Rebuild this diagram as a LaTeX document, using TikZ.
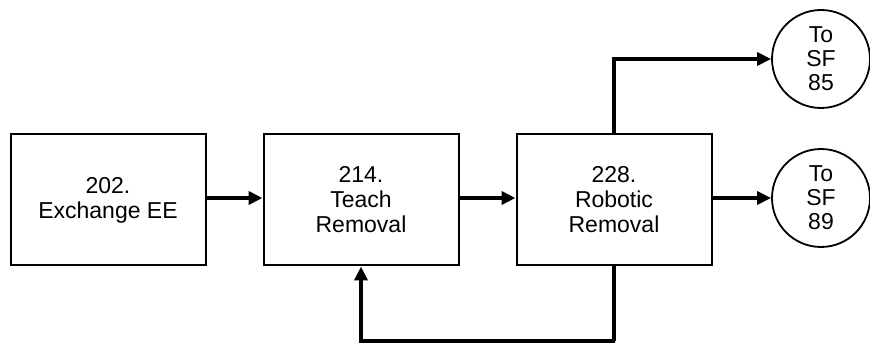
\documentclass[tikz,border=0pt]{standalone}
\usepackage{fontspec}
\setmainfont{Liberation Sans}
\usetikzlibrary{arrows.meta}

\tikzset{
  stepbox/.style={draw, line width=2pt, minimum width=195pt, minimum height=131pt,
    align=center, inner sep=0pt, font=\fontsize{23}{25}\selectfont},
  sfcircle/.style={draw, line width=1.8pt, circle, minimum size=98pt, align=center,
    inner sep=0pt, font=\fontsize{23}{24}\selectfont},
  flow/.style={line width=3.5pt, -{Triangle[length=14pt,width=13pt]}}
}

\begin{document}
\begin{tikzpicture}[x=1pt,y=-1pt]
\useasboundingbox (0,0) rectangle (870,344);

\coordinate (fb) at (615,341);

\node[stepbox] (ee) at (108,200) {202.\\Exchange EE};
\node[stepbox] (tr) at (361,200) {214.\\Teach\\Removal};
\node[stepbox] (rr) at (614,200) {228.\\Robotic\\Removal};

\node[sfcircle] (sf85) at (821,59) {To\\SF\\85};
\node[sfcircle] (sf89) at (821,198) {To\\SF\\89};

\draw [flow] (ee.east |- 0,198) -- (tr.west |- 0,198);
\draw [flow] (tr.east |- 0,198) -- (rr.west |- 0,198);
\draw [flow] (rr.east |- 0,198) -- (sf89.west);
\draw [flow] (rr.north) |- (sf85.west);
\draw [flow] (rr.south) |- (fb) -| (tr.south);

\end{tikzpicture}
\end{document}
